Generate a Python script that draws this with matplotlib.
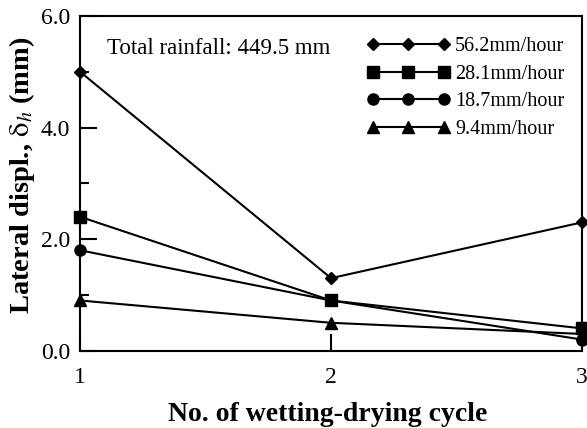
import numpy as np, matplotlib.pyplot as plt
from matplotlib import rcParams
from matplotlib.ticker import MultipleLocator, FormatStrFormatter

rcParams['font.family'] = 'Liberation Serif'
rcParams['mathtext.fontset'] = 'stix'

cycles = [1, 2, 3]
labels = ['56.2mm/hour', '28.1mm/hour', '18.7mm/hour', '9.4mm/hour']
disp_562 = [5.0, 1.3, 2.3]
disp_281 = [2.4, 0.9, 0.4]
disp_187 = [1.8, 0.9, 0.2]
disp_94 = [0.9, 0.5, 0.3]
markers = ['D', 's', 'o', '^']
msizes = [6.5, 8.5, 8, 8]

fig = plt.figure(figsize=(5.87, 4.28), dpi=100)
ax = fig.add_axes([80/587, 1-350.7/428, 502/587, 334.8/428])

for ys, lab, m, ms in zip([disp_562, disp_281, disp_187, disp_94], labels, markers, msizes):
    ax.plot(cycles, ys, color='black', linewidth=1.5, marker=m, markersize=ms,
            label=lab, clip_on=False, zorder=3)

ax.set_xlim(1, 3)
ax.set_ylim(0, 6)
ax.set_xticks([1, 2, 3])
ax.yaxis.set_major_locator(MultipleLocator(2))
ax.yaxis.set_minor_locator(MultipleLocator(1))
ax.yaxis.set_major_formatter(FormatStrFormatter('%.1f'))
ax.tick_params(axis='both', which='major', direction='in', length=12, width=1.5,
               labelsize=17)
ax.tick_params(axis='x', pad=12)
ax.tick_params(axis='y', pad=7)
ax.tick_params(axis='y', which='minor', direction='in', length=6.5, width=1.5)
for s in ax.spines.values():
    s.set_linewidth(1.5)

ax.set_xlabel('No. of wetting-drying cycle', fontsize=20, fontweight='bold')
ax.set_ylabel(r'Lateral displ., $\mathrm{\delta}_{\mathit{h}}$ (mm)', fontsize=20.5,
              fontweight='bold')
ax.xaxis.set_label_coords(0.494, -0.152)
ax.yaxis.set_label_coords(-0.086, 0.525)

ax.text(0.053, 0.904, 'Total rainfall: 449.5 mm', transform=ax.transAxes, fontsize=16.5,
        va='center')

ax.legend(loc='upper left', bbox_to_anchor=(0.572, 0.937), frameon=False, numpoints=3,
          handlelength=4.1, handletextpad=0.27, labelspacing=0.42, borderpad=0,
          borderaxespad=0, fontsize=14.5)

plt.savefig('out.png', dpi=100)
